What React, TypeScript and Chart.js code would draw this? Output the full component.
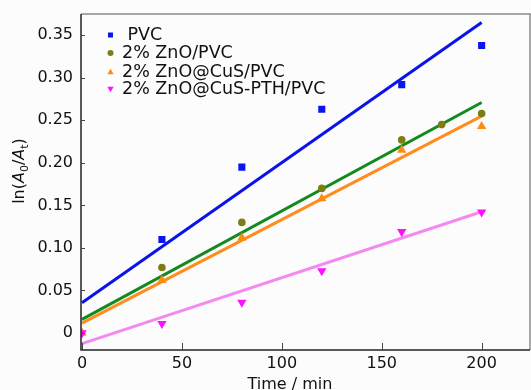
import React, { useEffect, useRef } from 'react';
import { Chart, registerables } from 'chart.js';

Chart.register(...registerables);

// ---- data ----
const pvcTimes = [40, 80, 120, 160, 200];
const pvcValues = [0.11, 0.195, 0.263, 0.292, 0.338];
const znoTimes = [40, 80, 120, 160, 180, 200];
const znoValues = [0.077, 0.13, 0.17, 0.227, 0.245, 0.258];
const cusTimes = [0, 40, 80, 120, 160, 200];
const cusValues = [0, 0.062, 0.112, 0.158, 0.215, 0.243];
const pthTimes = [0, 40, 80, 120, 160, 200];
const pthValues = [0, 0.011, 0.036, 0.073, 0.119, 0.142];

// linear-fit lines (end points)
const fitTimes = [0, 200];
const pvcFit = [0.0355, 0.365];
const znoFit = [0.016, 0.271];
const cusFit = [0.0115, 0.255];
const pthFit = [-0.0125, 0.1425];

const seriesLabels = [' PVC', '2% ZnO/PVC', '2% ZnO@CuS/PVC', '2% ZnO@CuS-PTH/PVC'];
const xTickValues = [0, 50, 100, 150, 200];
const yTickValues = [0, 0.05, 0.1, 0.15, 0.2, 0.25, 0.3, 0.35];
const xTitle = 'Time / min';

const FONT = '"DejaVu Sans", "Liberation Sans", Arial, sans-serif';

const markerColors = ['#0a14f0', '#7d7d16', '#ff8a12', '#ff10ff'];
const lineColors = ['#0a14e8', '#138a1e', '#ff8c1c', '#f48af0'];
const markerStyles = ['rect', 'circle', 'triangle', 'triangle'];
const markerRot = [0, 0, 0, 180];
const markerRadius = [5, 3.8, 5.4, 5.4];

const zip = (xs: number[], ys: number[]) => xs.map((x, i) => ({ x, y: ys[i] }));

function drawMarker(ctx: CanvasRenderingContext2D, kind: number, x: number, y: number, s: number) {
  ctx.save();
  ctx.fillStyle = markerColors[kind];
  ctx.beginPath();
  if (kind === 0) {
    ctx.rect(x - s, y - s, 2 * s, 2 * s);
  } else if (kind === 1) {
    ctx.arc(x, y, s, 0, Math.PI * 2);
  } else if (kind === 2) {
    ctx.moveTo(x, y - s * 1.1);
    ctx.lineTo(x + s * 1.05, y + s * 0.75);
    ctx.lineTo(x - s * 1.05, y + s * 0.75);
    ctx.closePath();
  } else {
    ctx.moveTo(x, y + s * 1.1);
    ctx.lineTo(x + s * 1.05, y - s * 0.75);
    ctx.lineTo(x - s * 1.05, y - s * 0.75);
    ctx.closePath();
  }
  ctx.fill();
  ctx.restore();
}

const decorPlugin = {
  id: 'decor',
  beforeDraw(chart: any) {
    const ctx = chart.ctx as CanvasRenderingContext2D;
    ctx.save();
    ctx.fillStyle = '#fcfcfc';
    ctx.fillRect(0, 0, chart.width, chart.height);
    ctx.restore();
  },
  afterDraw(chart: any) {
    const ctx = chart.ctx as CanvasRenderingContext2D;
    const { left, top, bottom } = chart.chartArea;
    const frameRight = chart.width - 1;
    const xs = chart.scales.x;
    const ys = chart.scales.y;
    ctx.save();
    // frame: top & right grey, left & bottom dark
    ctx.strokeStyle = '#8a8a8a';
    ctx.lineWidth = 1.5;
    ctx.beginPath();
    ctx.moveTo(left, top);
    ctx.lineTo(frameRight, top);
    ctx.lineTo(frameRight, bottom);
    ctx.stroke();
    ctx.strokeStyle = '#222';
    ctx.beginPath();
    ctx.moveTo(left, top);
    ctx.lineTo(left, bottom);
    ctx.lineTo(frameRight, bottom);
    ctx.stroke();
    // inward ticks
    ctx.lineWidth = 1;
    ctx.strokeStyle = '#444';
    ctx.beginPath();
    xTickValues.forEach((v) => {
      const px = Math.round(xs.getPixelForValue(v)) + 0.5;
      ctx.moveTo(px, bottom);
      ctx.lineTo(px, bottom - 7);
    });
    yTickValues.forEach((v) => {
      const py = Math.round(ys.getPixelForValue(v)) + 0.5;
      ctx.moveTo(left, py);
      ctx.lineTo(left + 4, py);
    });
    ctx.stroke();

    // legend
    const rowsY = [35, 53, 72, 89];
    ctx.font = `17.5px ${FONT}`;
    ctx.fillStyle = '#111';
    ctx.textBaseline = 'middle';
    ctx.textAlign = 'left';
    seriesLabels.forEach((lab, i) => {
      drawMarker(ctx, i, 110.5, rowsY[i], i === 0 ? 2.5 : 3);
      ctx.fillStyle = '#111';
      ctx.fillText(lab, 122, rowsY[i] + 0.5);
    });

    // x title
    ctx.font = `16px ${FONT}`;
    ctx.textAlign = 'center';
    ctx.textBaseline = 'alphabetic';
    ctx.fillText(xTitle, 290, 389);

    // y title: ln(A0/At) rotated
    const parts: { t: string; italic?: boolean; sub?: boolean }[] = [
      { t: 'ln(' },
      { t: 'A', italic: true },
      { t: '0', sub: true },
      { t: '/' },
      { t: 'A', italic: true },
      { t: 't', sub: true },
      { t: ')' },
    ];
    const fontFor = (p: any) =>
      p.sub ? `11px ${FONT}` : p.italic ? `italic 16px ${FONT}` : `16px ${FONT}`;
    let total = 0;
    parts.forEach((p) => {
      ctx.font = fontFor(p);
      total += ctx.measureText(p.t).width;
    });
    ctx.translate(24, 171);
    ctx.rotate(-Math.PI / 2);
    ctx.textAlign = 'left';
    let cx = -total / 2;
    parts.forEach((p) => {
      ctx.font = fontFor(p);
      ctx.fillText(p.t, cx, p.sub ? 4 : 0);
      cx += ctx.measureText(p.t).width;
    });
    ctx.restore();
  },
};

export default function App() {
  const ref = useRef<HTMLCanvasElement | null>(null);
  useEffect(() => {
    if (!ref.current) return;
    const markerSets = [
      zip(pvcTimes, pvcValues),
      zip(znoTimes, znoValues),
      zip(cusTimes, cusValues),
      zip(pthTimes, pthValues),
    ];
    const fitSets = [pvcFit, znoFit, cusFit, pthFit].map((f) => zip(fitTimes, f));
    const datasets: any[] = [];
    fitSets.forEach((d, i) => {
      datasets.push({
        label: 'fit ' + seriesLabels[i],
        data: d,
        showLine: true,
        borderColor: lineColors[i],
        borderWidth: 3,
        pointRadius: 0,
        order: 20 - i,
        clip: 0,
      });
    });
    markerSets.forEach((d, i) => {
      datasets.push({
        label: seriesLabels[i],
        data: d,
        showLine: false,
        pointStyle: markerStyles[i],
        pointRotation: markerRot[i],
        pointRadius: markerRadius[i],
        pointBackgroundColor: markerColors[i],
        pointBorderColor: markerColors[i],
        pointBorderWidth: 0,
        order: 10 - i,
        clip: 0,
      });
    });
    const chart = new Chart(ref.current, {
      type: 'scatter',
      data: { datasets },
      options: {
        animation: false,
        responsive: false,
        devicePixelRatio: 1,
        layout: { padding: { top: 14, right: 0, left: 0, bottom: 0 } },
        plugins: { legend: { display: false }, tooltip: { enabled: false } },
        scales: {
          x: {
            type: 'linear',
            min: -0.5,
            max: 222,
            bounds: 'data',
            grid: { display: false, drawTicks: false },
            border: { display: false },
            afterBuildTicks: (s: any) => {
              s.ticks = xTickValues.map((v) => ({ value: v }));
            },
            afterFit: (s: any) => {
              s.height = 40;
              s.paddingLeft = 0;
              s.paddingRight = 0;
            },
            ticks: {
              color: '#111',
              padding: 4,
              maxRotation: 0,
              font: { family: FONT, size: 16 },
              callback: (v: any) => String(v),
            },
          },
          y: {
            type: 'linear',
            min: -0.02,
            max: 0.375,
            bounds: 'data',
            grid: { display: false, drawTicks: false },
            border: { display: false },
            afterBuildTicks: (s: any) => {
              s.ticks = yTickValues.map((v) => ({ value: v }));
            },
            afterFit: (s: any) => {
              s.width = 81;
              s.paddingTop = 0;
              s.paddingBottom = 0;
            },
            ticks: {
              color: '#111',
              padding: 8,
              font: { family: FONT, size: 16 },
              callback: (v: any) => (Math.abs(v) < 1e-9 ? '0' : Number(v).toFixed(2)),
            },
          },
        },
      },
      plugins: [decorPlugin],
    });
    return () => chart.destroy();
  }, []);
  return (
    <div style={{ position: 'absolute', left: 0, top: 0, width: 531, height: 390 }}>
      <canvas ref={ref} width={531} height={390} style={{ width: 531, height: 390 }} />
    </div>
  );
}
